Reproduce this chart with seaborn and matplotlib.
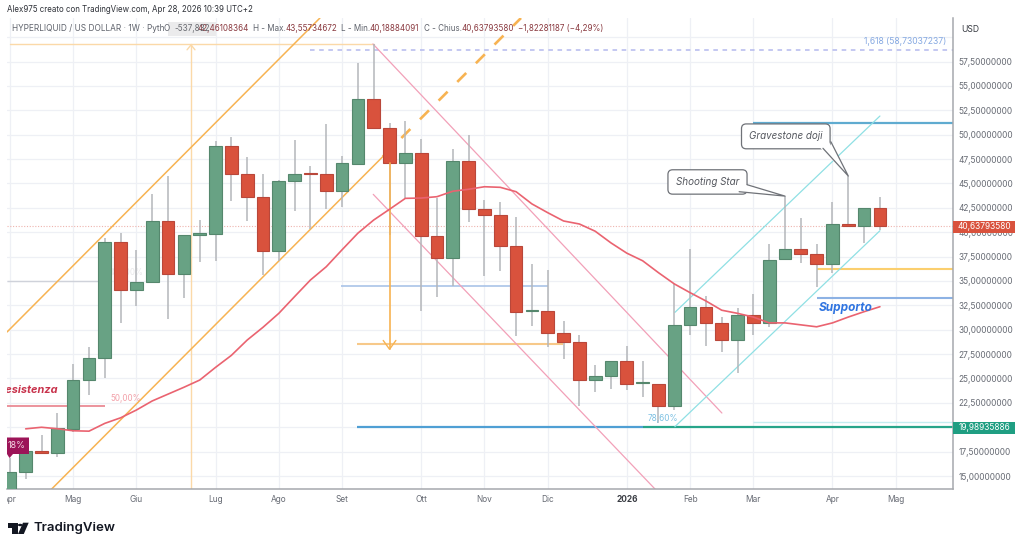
import numpy as np
import pandas as pd
import seaborn as sns
import matplotlib
matplotlib.use("Agg")
import matplotlib.pyplot as plt
from matplotlib.patches import Rectangle, Polygon, FancyBboxPatch, Circle
from matplotlib.transforms import Bbox

# ---- weekly candles (USD)
opens = [12.5, 15.38, 17.6, 17.39, 19.85, 24.88, 27.1, 39.0, 34.1, 34.92, 41.1, 35.7, 39.75, 39.8,
         48.84, 45.97, 43.64, 38.1, 45.2, 46.0, 45.97, 44.2, 47.0, 53.65, 50.7, 47.12, 48.1, 39.6,
         37.35, 47.27, 42.38, 41.76, 38.6, 31.9, 31.9, 29.66, 28.77, 24.8, 25.28, 26.8, 24.5, 24.4,
         22.18, 30.5, 32.36, 30.68, 28.98, 31.47, 30.66, 37.25, 38.3, 37.76, 36.77, 40.8, 40.65, 42.46]
closes = [15.38, 17.53, 17.4, 19.89, 24.84, 27.07, 39.0, 34.1, 34.92, 41.1, 35.7, 39.7, 39.8, 48.84,
          45.97, 43.64, 38.1, 45.2, 45.97, 45.95, 44.2, 47.06, 53.65, 50.7, 47.12, 48.15, 39.64, 37.35,
          47.27, 42.38, 41.76, 38.6, 31.85, 31.95, 29.7, 28.77, 24.8, 25.3, 26.8, 24.4, 24.55, 22.18,
          30.5, 32.36, 30.68, 28.98, 31.47, 30.66, 37.2, 38.3, 37.8, 36.77, 40.8, 40.6, 42.45, 40.64]
highs = [16.9, 17.9, 19.2, 21.43, 26.45, 28.2, 39.4, 39.9, 38.2, 43.9, 45.76, 39.7, 41.2, 49.3,
         49.8, 47.7, 46.0, 45.3, 49.45, 46.8, 51.06, 47.8, 57.3, 59.3, 51.16, 51.4, 49.6, 43.5,
         48.56, 50.0, 43.3, 43.1, 41.6, 36.7, 36.1, 30.9, 29.5, 26.4, 26.8, 28.3, 26.8, 24.4,
         34.65, 38.27, 33.45, 31.3, 32.2, 33.66, 38.8, 43.7, 41.5, 38.76, 43.1, 45.76, 42.45, 43.56]
lows = [12.0, 14.66, 17.3, 16.98, 19.54, 23.3, 25.0, 30.7, 32.4, 34.8, 31.07, 33.3, 36.9, 37.0,
        43.2, 41.15, 35.6, 37.0, 42.2, 40.3, 42.4, 42.6, 47.0, 50.6, 39.7, 43.5, 31.95, 33.4,
        34.5, 41.07, 35.5, 36.0, 29.35, 30.4, 28.2, 26.97, 22.2, 23.65, 23.9, 23.8, 23.1, 20.4,
        21.77, 29.46, 28.3, 27.75, 25.6, 29.46, 30.3, 37.2, 36.8, 34.4, 35.8, 40.6, 38.86, 40.19]
ma = [19.84, 20.0, 19.85, 19.64, 19.6, 20.4, 20.97, 21.77, 22.7, 23.4, 24.1, 24.84, 26.14, 27.37,
      28.94, 30.25, 31.68, 33.4, 35.1, 36.46, 38.2, 39.9, 41.25, 42.35, 43.47, 43.5, 43.64, 44.2,
      44.4, 44.66, 44.6, 44.15, 42.9, 42.0, 41.15, 40.84, 40.1, 38.9, 37.85, 37.07, 35.85, 34.7,
      33.8, 32.95, 32.0, 31.68, 31.3, 30.7, 30.7, 30.5, 30.3, 30.7, 31.3, 31.85, 32.36]
ma_start = 1

# ---- axis content
month_pos = [0, 4, 8, 13, 17, 21, 26, 30, 34, 39, 43, 47, 52, 56]
month_labels = ["Apr", "Mag", "Giu", "Lug", "Ago", "Set", "Ott", "Nov", "Dic", "2026", "Feb", "Mar", "Apr", "Mag"]
price_ticks = [15 + 2.5 * k for k in range(19)]
last_price = 40.6379358
fib_price = 58.73037237
low_label = 19.98935886

# ---- drawings, in (bar index, price)
orange_upper = ([-0.18, 19.6], [29.77, 61.96])
orange_lower = ([2.58, 23.57], [13.57, 47.74])
orange_dash = ([23.57, 32.31], [47.74, 61.96])
pink_upper = ([22.95, 45.01], [59.3, 21.46])
pink_lower = ([22.97, 40.84], [43.88, 13.57])
cyan_upper = ([42.04, 55.0], [31.78, 51.91])
cyan_lower = ([42.04, 55.0], [20.06, 40.15])
h_lines = [  # x0, x1, price, colour, width
    (-0.18, 6.0, 35.0, "#cfd2da", 1.0),
    (20.9, 34.0, 34.45, "#a9c3e8", 1.2),
    (-0.18, 6.0, 22.2, "#ea8a94", 1.3),
    (21.94, 34.96, 28.53, "#f7c98a", 1.5),
    (21.94, 40.04, 20.02, "#4f9fd4", 1.6),
    (40.04, 59.62, 19.99, "#27a58a", 1.6),
    (47.0, 59.62, 20.56, "#c4edf0", 1.0),
    (47.0, 59.62, 51.2, "#5fabd0", 1.6),
    (51.0, 59.62, 36.22, "#fbcf6e", 1.5),
    (51.0, 59.62, 33.25, "#8db2e4", 1.5),
]

# ---- figure
sns.set_theme(style="white")
plt.rcParams["font.family"] = ["Inter", "DejaVu Sans"]
W, H = 1024, 548
fig = plt.figure(figsize=(W / 100, H / 100), dpi=100, facecolor="white")
ax = fig.add_axes([7 / W, 1 - 489.3 / H, 946 / W, (489.3 - 18) / H])
ax.set_xlim(-0.183, 59.62)
ax.set_ylim(13.64, 61.96)
ax.set_facecolor("white")

GREEN, RED = "#68a284", "#d9523d"
GREEN_E, RED_E = "#55876d", "#b9473a"
GRID = "#eef0f5"
TICK = 6.0

ax.set_xticks(month_pos)
ax.set_xticklabels(month_labels, fontsize=TICK, color="#666a73")
ax.set_yticks(price_ticks)
ax.set_yticklabels([("" if p >= 60 else f"{p:.8f}".replace(".", ",")) for p in price_ticks],
                   fontsize=TICK, color="#666a73")
ax.yaxis.tick_right()
ax.tick_params(axis="both", length=0)
ax.tick_params(axis="x", pad=4)
ax.tick_params(axis="y", pad=4)
ax.grid(True, color=GRID, lw=0.9)
ax.set_axisbelow(True)
for s in ["top", "left"]:
    ax.spines[s].set_visible(False)
for s in ["right", "bottom"]:
    ax.spines[s].set_color("#a6a8ad")
    ax.spines[s].set_linewidth(1.1)

lab = ax.get_xticklabels()
lab[0].set_clip_on(True)
lab[0].set_clip_box(Bbox([[6.5, 0], [W, H]]))
lab[9].set_fontweight("bold")
lab[9].set_color("#3a3d44")

# light-orange measure box
ax.plot([0, 23], [59.3, 59.3], color="#fbd9a8", lw=1, zorder=1.2)
ax.plot([11.45, 11.45], [13.64, 59.3], color="#fbd9a8", lw=1, zorder=1.2)
ax.plot([11.2, 11.45, 11.7], [58.7, 59.2, 58.7], color="#fbd9a8", lw=1, zorder=1.2)

# horizontal drawings
for x0, x1, p, c, w in h_lines:
    ax.plot([x0, x1], [p, p], color=c, lw=w, zorder=1.6, solid_capstyle="butt")
ax.plot([19.0, 59.62], [fib_price, fib_price], color="#b4b9ee", lw=1.1, ls=(0, (3, 3)), zorder=1.6)
ax.plot([-0.18, 59.62], [last_price, last_price], color="#eeb4ae", lw=0.8, ls=(0, (1, 1.5)), zorder=1.6)

# channels
ax.plot(*orange_upper, color="#f7b352", lw=1.1, zorder=1.7)
ax.plot(*orange_lower, color="#f7b352", lw=1.1, zorder=1.7)
ax.plot(*orange_dash, color="#f7b352", lw=1.9, ls=(0, (4.8, 5.2)), zorder=1.7)
ax.plot(*pink_upper, color="#f2a0b8", lw=0.9, zorder=1.7)
ax.plot(*pink_lower, color="#f2a0b8", lw=0.9, zorder=1.7)
ax.plot(*cyan_upper, color="#8fe0e4", lw=0.9, zorder=1.7)
ax.plot(*cyan_lower, color="#8fe0e4", lw=0.9, zorder=1.7)

# candles
idx = np.arange(len(opens))
o, c, hi, lo = map(np.array, (opens, closes, highs, lows))
up = c >= o
bot = np.minimum(o, c)
tall = np.maximum(np.abs(c - o), 0.12)
ax.vlines(idx, lo, hi, color="#b4b6ba", lw=1.1, zorder=2)
ax.bar(idx[up], tall[up], bottom=bot[up], width=0.8, color=GREEN, edgecolor=GREEN_E, lw=0.8, zorder=3)
ax.bar(idx[~up], tall[~up], bottom=bot[~up], width=0.8, color=RED, edgecolor=RED_E, lw=0.8, zorder=3)

# moving average
df_ma = pd.DataFrame({"bar": np.arange(len(ma)) + ma_start, "ma": ma})
sns.lineplot(data=df_ma, x="bar", y="ma", color="#ea6370", lw=1.2, ax=ax, zorder=4)
ax.set_xlabel("")
ax.set_ylabel("")

# measure arrow over the candles
ax.plot([24, 24], [28.0, 47.1], color="#f7b352", lw=1.2, zorder=3.5)
ax.plot([23.6, 24, 24.4], [28.9, 28.0, 28.9], color="#f7b352", lw=1.0, zorder=3.5)

# drawing texts
ax.text(3.04, 23.8, "Resistenza", color="#c8334c", fontsize=7.9, fontweight="bold", style="italic",
        ha="right", va="center", clip_on=True, zorder=5)
ax.text(6.33, 23.0, "50,00%", color="#f2a0a8", fontsize=5.8, ha="left", va="center", zorder=5)
ax.text(6.33, 35.85, "100,00%", color="#e8e8ea", fontsize=5.8, ha="left", va="center", zorder=1.8)
ax.text(40.3, 20.85, "78,60%", color="#7cc0e2", fontsize=5.9, ha="left", va="center", zorder=5)
ax.text(51.15, 32.2, "Supporto", color="#2f74e0", fontsize=8.5, fontweight="bold", style="italic",
        ha="left", va="center", zorder=5)
ax.text(59.2, 59.5, "1,618 (58,73037237)", color="#86a9e2", fontsize=6.2, ha="right", va="center", zorder=5)

# callouts
for tail, box, tip, txt in [
    ([(46.6, 44.87), (46.1, 44.15)], (41.6, 43.9, 5.0, 2.5), (49.0, 43.7), "Shooting Star"),
    ([(51.9, 49.27), (51.4, 48.6)], (46.25, 48.55, 5.6, 2.55), (53.0, 45.76), "Gravestone doji"),
]:
    x, y, w_, h_ = box
    ax.add_patch(Polygon([(tail[0][0] - 0.3, tail[0][1] + 0.1), tail[0], tip, tail[1], (tail[1][0] - 0.3, tail[1][1] - 0.1)],
                         closed=True, fc="white", ec="none", zorder=6.05))
    ax.plot([tail[0][0], tip[0], tail[1][0]], [tail[0][1], tip[1], tail[1][1]], color="#6f7278", lw=0.9, zorder=6.3)
    ax.add_patch(FancyBboxPatch((x, y), w_, h_, boxstyle="round,pad=0,rounding_size=0.3", mutation_aspect=1.6,
                                fc="white", ec="#6f7278", lw=0.9, zorder=6.1))
    ax.add_patch(Polygon([(tail[0][0] - 0.15, tail[0][1] + 0.05), tip, (tail[1][0] - 0.15, tail[1][1] + 0.0)],
                         closed=True, fc="white", ec="none", zorder=6.2))
    ax.text(x + w_ / 2, y + h_ / 2, txt, color="#55585f", fontsize=7.1, style="italic", ha="center", va="center", zorder=7)


def figrect(x0, y0, x1, y1, **kw):
    fig.add_artist(Rectangle((x0 / W, 1 - y1 / H), (x1 - x0) / W, (y1 - y0) / H,
                             transform=fig.transFigure, **kw))


def figtext(x, y, s, **kw):
    return fig.text(x / W, 1 - y / H, s, va="center", **kw)


# price-scale tags
figrect(953, 221, 1015, 232.5, fc=RED, ec="none", zorder=10)
figtext(984.5, 226.8, "40,63793580", color="white", fontsize=TICK, ha="center", zorder=11)
figrect(953, 421.5, 1015, 433.5, fc="#1f9e82", ec="none", zorder=10)
figtext(984.5, 427.5, "19,98935886", color="white", fontsize=TICK, ha="center", zorder=11)
figtext(961, 29, "USD", color="#3a3d44", fontsize=6.2, ha="left", zorder=11)

# alert flag on the left
fig.add_artist(Polygon([(7 / W, 1 - 437.5 / H), (29 / W, 1 - 437.5 / H), (29 / W, 1 - 454 / H), (13 / W, 1 - 454 / H),
                        (9.5 / W, 1 - 458 / H), (7 / W, 1 - 454 / H)], closed=True, fc="#9c1458", ec="none",
                       transform=fig.transFigure, zorder=10))
figtext(16.5, 445, "18%", color="#f3d9e4", fontsize=6.4, ha="center", zorder=11)

# header
HD = 5.8
figtext(7, 10, "Alex975 creato con TradingView.com, Apr 28, 2026 10:39 UTC+2", color="#2e3138", fontsize=5.7, ha="left")
figtext(12, 28.5, "HYPERLIQUID / US DOLLAR · 1W · Pyth", color="#5f636c", fontsize=5.95, ha="left")
figrect(168, 22, 216, 36, fc="#ebebec", ec="none", zorder=9)
figtext(164, 28.5, "O", color="#5f636c", fontsize=HD, ha="left", zorder=11)
DARK = "#8a3a40"
figtext(198, 28.5, "42,46108364", color=DARK, fontsize=HD, ha="left", zorder=11)
figtext(174, 28.5, "-537,832", color="#6a6c72", fontsize=HD, ha="left", zorder=11)
for x, s, col in [(253, "H - Max.", "#5f636c"), (286, "43,55734672", DARK), (341, "L - Min.", "#5f636c"),
                  (370, "40,18884091", DARK), (424.5, "C - Chius.", "#5f636c"), (461.7, "40,63793580", DARK),
                  (518, "−1,82281187 (−4,29%)", DARK)]:
    figtext(x, 28.5, s, color=col, fontsize=HD, ha="left", zorder=11)

# logo
BLK = "#131722"
fig.add_artist(Polygon([(7.5 / W, 1 - 522.7 / H), (17.5 / W, 1 - 522.7 / H), (17.5 / W, 1 - 534 / H), (12 / W, 1 - 534 / H),
                        (12 / W, 1 - 527.5 / H), (7.5 / W, 1 - 527.5 / H)], closed=True, fc=BLK, ec="none",
                       transform=fig.transFigure))
fig.add_artist(Polygon([(23 / W, 1 - 522.7 / H), (28.7 / W, 1 - 522.7 / H), (23.8 / W, 1 - 534 / H), (18 / W, 1 - 534 / H)],
                       closed=True, fc=BLK, ec="none", transform=fig.transFigure))
fig.add_artist(Circle((20.2 / W, 1 - 525 / H), 2.3 / W, fc=BLK, ec="none", transform=fig.transFigure))
figtext(33, 528, "TradingView", color=BLK, fontsize=9.5, fontweight="semibold", ha="left")

fig.savefig("out.png", dpi=100, facecolor="white")
